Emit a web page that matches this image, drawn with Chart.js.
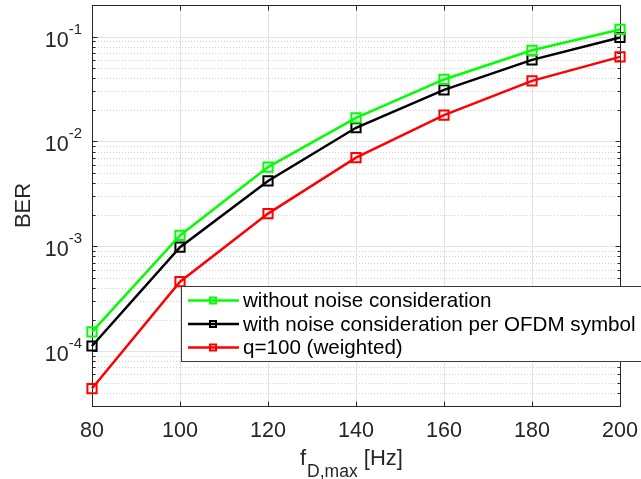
<!DOCTYPE html>
<html>
<head>
<meta charset="utf-8">
<script src="https://cdn.jsdelivr.net/npm/chart.js@4"></script>
<style>
html,body{margin:0;padding:0;background:#fff;}
#wrap{width:641px;height:479px;position:relative;}
</style>
</head>
<body>
<div id="wrap"><canvas id="c" width="641" height="479"></canvas></div>
<script>
// ---- data ----
const xValues = [80, 100, 120, 140, 160, 180, 200];
const berWithoutNoise = [1.53e-4, 1.27e-3, 5.7e-3, 0.0168, 0.039, 0.074, 0.117];
const berWithNoise    = [1.12e-4, 0.98e-3, 4.2e-3, 0.0135, 0.031, 0.060, 0.098];
const berWeighted     = [4.4e-5, 4.6e-4, 2.05e-3, 7.0e-3, 0.0178, 0.0378, 0.064];
const seriesLabels = ['without noise consideration', 'with noise consideration per OFDM symbol', 'q=100 (weighted)'];
const seriesColors = ['#00ff00', '#000000', '#ff0000'];
const xTickStep = 20;
const yTickExponents = [-4, -3, -2, -1];
const yMinorMultipliers = [2, 3, 4, 5, 6, 7, 8, 9];
const yMin = 3e-5, yMax = 0.2;
const xTitleMain = 'f', xTitleSub = 'D,max', xTitleUnit = '[Hz]';
const yTitle = 'BER';

const FONT = '"Liberation Sans", Arial, Helvetica, sans-serif';
const AX = '#262626';

function mkData(arr){ return xValues.map((x,i)=>({x:x, y:arr[i]})); }
const allSeries = [berWithoutNoise, berWithNoise, berWeighted];
const datasets = allSeries.map((arr,i)=>({
  label: seriesLabels[i],
  data: mkData(arr),
  borderColor: seriesColors[i],
  backgroundColor: 'rgba(0,0,0,0)',
  borderWidth: 2.5,
  pointStyle: 'rect',
  pointRadius: 6.5,
  pointHoverRadius: 6.5,
  pointBorderWidth: 2,
  pointBorderColor: seriesColors[i],
  pointBackgroundColor: 'rgba(0,0,0,0)',
  tension: 0,
  clip: false
}));

const gridPlugin = {
  id: 'matlabGrid',
  beforeDatasetsDraw(chart){
    const ctx = chart.ctx, a = chart.chartArea;
    const xs = chart.scales.x, ys = chart.scales.y;
    ctx.save();
    // minor y dotted
    ctx.strokeStyle = '#cfcfcf'; ctx.lineWidth = 1; ctx.setLineDash([1,2]);
    for (let e = -6; e <= 0; e++) {
      for (const m of yMinorMultipliers) {
        const v = m * Math.pow(10, e);
        if (v <= yMin || v >= yMax) continue;
        const y = Math.round(ys.getPixelForValue(v)) + 0.5;
        ctx.beginPath(); ctx.moveTo(a.left, y); ctx.lineTo(a.right, y); ctx.stroke();
      }
    }
    ctx.setLineDash([]);
    ctx.strokeStyle = '#e3e3e3';
    for (const e of yTickExponents) {
      const y = Math.round(ys.getPixelForValue(Math.pow(10,e))) + 0.5;
      ctx.beginPath(); ctx.moveTo(a.left, y); ctx.lineTo(a.right, y); ctx.stroke();
    }
    for (let xv = xValues[0]; xv <= xValues[xValues.length-1]; xv += xTickStep) {
      const x = Math.round(xs.getPixelForValue(xv)) + 0.5;
      ctx.beginPath(); ctx.moveTo(x, a.top); ctx.lineTo(x, a.bottom); ctx.stroke();
    }
    // box + ticks
    ctx.strokeStyle = AX; ctx.lineWidth = 1;
    const L = Math.round(a.left)+0.5, R = Math.round(a.right)+0.5, T = Math.round(a.top)+0.5, B = Math.round(a.bottom)+0.5;
    ctx.strokeRect(L, T, R-L, B-T);
    ctx.beginPath();
    for (let xv = xValues[0]; xv <= xValues[xValues.length-1]; xv += xTickStep) {
      const x = Math.round(xs.getPixelForValue(xv)) + 0.5;
      ctx.moveTo(x, B); ctx.lineTo(x, B-5);
      ctx.moveTo(x, T); ctx.lineTo(x, T+5);
    }
    for (let e = -6; e <= 0; e++) {
      for (let m = 1; m <= 9; m++) {
        const v = m * Math.pow(10, e);
        if (v < yMin || v > yMax) continue;
        const y = Math.round(ys.getPixelForValue(v)) + 0.5;
        const len = (m === 1) ? 5 : 3;
        ctx.moveTo(L, y); ctx.lineTo(L+len, y);
        ctx.moveTo(R, y); ctx.lineTo(R-len, y);
      }
    }
    ctx.stroke();
    // y tick labels 10^e
    ctx.fillStyle = AX;
    ctx.textBaseline = 'alphabetic';
    for (const e of yTickExponents) {
      const y = ys.getPixelForValue(Math.pow(10,e));
      ctx.font = '21.5px ' + FONT;
      const wb = ctx.measureText('10').width;
      ctx.font = '15px ' + FONT;
      const es = String(e);
      const we = ctx.measureText(es).width;
      const right = 82;
      const x0 = right - we - wb;
      ctx.font = '21.5px ' + FONT;
      ctx.textAlign = 'left';
      ctx.fillText('10', x0, y + 10);
      ctx.font = '15px ' + FONT;
      ctx.fillText(es, x0 + wb, y - 3);
    }
    // x title
    const cx = (a.left + a.right) / 2;
    let x = cx - 56;
    ctx.textAlign = 'left';
    ctx.font = '22px ' + FONT;
    ctx.fillText(xTitleMain, x, 465);
    x += ctx.measureText(xTitleMain).width + 1;
    ctx.font = '17.5px ' + FONT;
    ctx.fillText(xTitleSub, x, 477);
    x += ctx.measureText(xTitleSub).width;
    ctx.font = '22px ' + FONT;
    x += ctx.measureText(' ').width;
    ctx.fillText(xTitleUnit, x, 465);
    ctx.restore();
  }
};

const legendPlugin = {
  id: 'boxLegend',
  afterDraw(chart){
    const ctx = chart.ctx;
    const bx = 181.5, by = 286.5, bw = 470, bh = 75;
    ctx.save();
    ctx.fillStyle = '#ffffff';
    ctx.fillRect(bx, by, bw, bh);
    ctx.strokeStyle = '#3a3a3a'; ctx.lineWidth = 1;
    ctx.strokeRect(bx, by, bw, bh);
    const rowY = [300.5, 324, 347.5];
    chart.data.datasets.forEach((ds, i) => {
      const y = rowY[i];
      ctx.strokeStyle = ds.borderColor; ctx.lineWidth = 2.5;
      ctx.beginPath(); ctx.moveTo(188, y); ctx.lineTo(239, y); ctx.stroke();
      ctx.lineWidth = 2;
      ctx.strokeRect(210, y - 3, 6, 6);
      ctx.fillStyle = '#000';
      ctx.font = '20.6px ' + FONT;
      ctx.textAlign = 'left'; ctx.textBaseline = 'middle';
      ctx.fillText(ds.label, 243, y + 1);
    });
    ctx.restore();
  }
};

function zeroPad(s){ s.paddingLeft = 0; s.paddingRight = 0; s.paddingTop = 0; s.paddingBottom = 0; }

new Chart(document.getElementById('c'), {
  type: 'line',
  data: { datasets: datasets },
  options: {
    responsive: false,
    animation: false,
    devicePixelRatio: 1,
    events: [],
    layout: { autoPadding: false, padding: { top: 5, right: 21, left: 0, bottom: 0 } },
    plugins: { legend: { display: false }, tooltip: { enabled: false }, title: { display: false } },
    scales: {
      x: {
        type: 'linear',
        min: xValues[0], max: xValues[xValues.length-1],
        grid: { display: false, drawTicks: false },
        border: { display: false },
        ticks: { stepSize: xTickStep, color: AX, font: { family: FONT, size: 21.5 }, padding: 12, maxRotation: 0 },
        afterFit(s){ s.height = 73; zeroPad(s); }
      },
      y: {
        type: 'logarithmic',
        min: yMin, max: yMax,
        grid: { display: false, drawTicks: false },
        border: { display: false },
        ticks: { display: false },
        title: { display: true, text: yTitle, color: AX, font: { family: FONT, size: 22 }, padding: { top: 11, bottom: 0 } },
        afterFit(s){ s.width = 92; zeroPad(s); }
      }
    }
  },
  plugins: [gridPlugin, legendPlugin]
});
</script>
</body>
</html>
